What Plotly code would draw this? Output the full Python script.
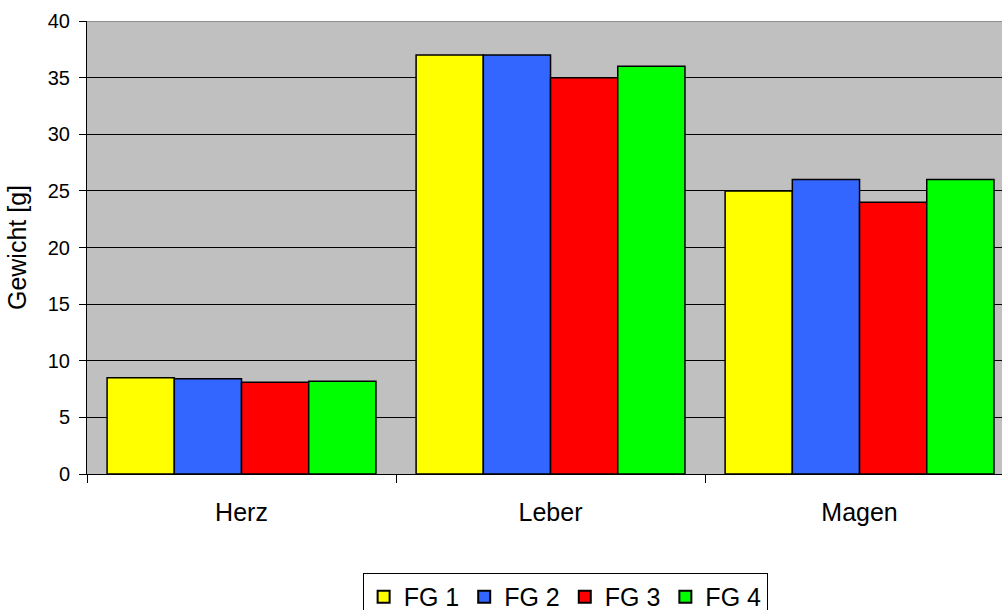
import plotly.graph_objects as go

# Organgewichte je Futtergruppe
organe = ["Herz", "Leber", "Magen"]
gruppen = ["FG 1", "FG 2", "FG 3", "FG 4"]
fg1 = [8.5, 37.0, 25.0]
fg2 = [8.4, 37.0, 26.0]
fg3 = [8.1, 35.0, 24.0]
fg4 = [8.2, 36.0, 26.0]
farben = ["#ffff00", "#3366ff", "#ff0000", "#00ff00"]
y_ticks = [0, 5, 10, 15, 20, 25, 30, 35, 40]

fig = go.Figure()
for name, werte, farbe in zip(gruppen, [fg1, fg2, fg3, fg4], farben):
    fig.add_trace(go.Bar(
        x=organe, y=werte, name=name,
        marker=dict(color=farbe, line=dict(color="#000000", width=1.5)),
    ))

fig.update_layout(
    width=1002, height=610,
    margin=dict(l=87, r=0, t=21, b=136, autoexpand=False),
    paper_bgcolor="#ffffff",
    plot_bgcolor="#c0c0c0",
    font=dict(family="Liberation Sans, Arial, sans-serif", color="#000000", size=20),
    barmode="group",
    bargap=0.13,
    bargroupgap=0,
    showlegend=True,
    legend=dict(
        orientation="h",
        xref="container", yref="container",
        x=0.564, xanchor="center",
        y=0.0607, yanchor="top",
        bordercolor="#000000", borderwidth=1,
        bgcolor="#ffffff",
        font=dict(size=25),
        itemsizing="constant",
    ),
    xaxis=dict(
        range=[-0.5, 2.461],
        automargin=False,
        showline=True, linecolor="#000000", linewidth=1,
        ticks="outside", tickson="boundaries", ticklen=8, tickcolor="#000000",
        tickfont=dict(size=25),
        ticklabelstandoff=16,
        showgrid=False,
    ),
    yaxis=dict(
        range=[0, 40],
        automargin=False,
        tickvals=y_ticks,
        showline=True, linecolor="#000000", linewidth=1,
        ticks="outside", ticklen=7, tickcolor="#000000",
        tickfont=dict(size=20),
        ticklabelstandoff=5,
        showgrid=True, gridcolor="#000000", gridwidth=1,
        zeroline=False,
        title=dict(text="Gewicht [g]", font=dict(size=25), standoff=14),
    ),
    shapes=[dict(type="line", xref="paper", yref="y", x0=0, x1=1, y0=40, y1=40,
                 line=dict(color="#808080", width=1.5), layer="above")],
)

fig.write_html("out.html")
